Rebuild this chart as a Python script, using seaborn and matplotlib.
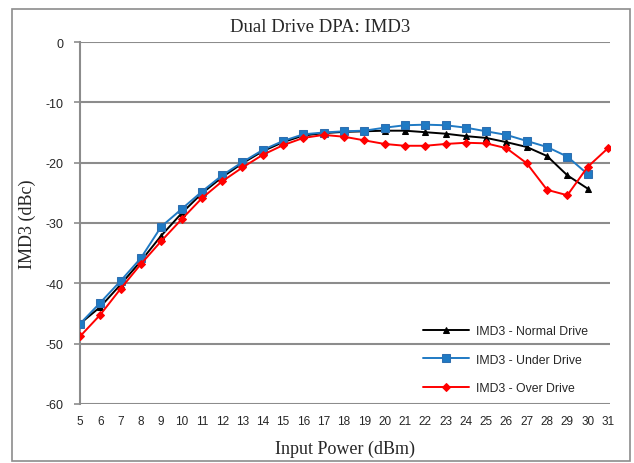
import matplotlib
matplotlib.use("Agg")
import matplotlib.pyplot as plt
import seaborn as sns
import pandas as pd
from matplotlib.patches import Rectangle

input_power = list(range(5, 32))
normal_drive = [-46.7, -43.9, -40.2, -36.3, -32.1, -28.4, -25.1, -22.4, -20.1, -18.1,
                -16.6, -15.5, -15.1, -14.9, -14.8, -14.7, -14.7, -14.95, -15.2, -15.6,
                -15.9, -16.6, -17.4, -18.9, -22.1, -24.3, None]
under_drive = [-46.7, -43.2, -39.6, -35.8, -30.6, -27.7, -24.8, -22.1, -19.9, -17.9,
               -16.4, -15.3, -15.0, -14.8, -14.7, -14.2, -13.8, -13.7, -13.8, -14.2,
               -14.8, -15.4, -16.4, -17.4, -19.0, -21.9, None]
over_drive = [-48.8, -45.2, -40.9, -36.8, -33.0, -29.4, -25.9, -23.1, -20.8, -18.7,
              -17.1, -15.9, -15.4, -15.7, -16.3, -16.9, -17.2, -17.2, -16.9, -16.7,
              -16.8, -17.6, -20.1, -24.5, -25.4, -20.7, -17.6]
series_names = ["IMD3 - Normal Drive", "IMD3 - Under Drive", "IMD3 - Over Drive"]
y_ticks = [0, -10, -20, -30, -40, -50, -60]

sns.set_theme(style="white")
plt.rcParams["font.family"] = ["Liberation Sans", "DejaVu Sans"]

fig = plt.figure(figsize=(6.34, 4.64), dpi=100)
ax = fig.add_axes([80/634, 1-405/464, (610-80)/634, (405-43)/464])

fig.patches.append(Rectangle((12/634, 2/464), 618/634, 452/464, transform=fig.transFigure,
                             fill=False, edgecolor="#8c8c8c", linewidth=1.2))

colors = ["#000000", "#1f7ac4", "#ff0000"]
markers = ["^", "s", "D"]
msizes = [5, 5.5, 4]
for vals, name, c, m, ms in zip([normal_drive, under_drive, over_drive], series_names,
                                colors, markers, msizes):
    df = pd.DataFrame({"x": input_power, "y": vals}).dropna()
    sns.lineplot(data=df, x="x", y="y", ax=ax, color=c, marker=m, markersize=ms,
                 markeredgecolor=c if c != "#1f7ac4" else "#2f6fb0", linewidth=1.4,
                 label=name, zorder=3)

ax.set_xlim(5, 31.1)
ax.set_ylim(-60, 0)
ax.set_xticks(input_power)
ax.set_xticklabels([str(v) for v in input_power], fontsize=8.5)
ax.set_yticks(y_ticks)
ax.set_yticklabels([str(v) for v in y_ticks], fontsize=9)
ax.yaxis.grid(True, color="#8c8c8c", linewidth=1.5)
ax.xaxis.grid(False)
for s in ["top", "right", "bottom"]:
    ax.spines[s].set_visible(False)
ax.spines["left"].set_color("#8c8c8c")
ax.spines["left"].set_linewidth(1.5)
ax.tick_params(axis="y", length=4, color="#8c8c8c", width=1.2, left=True, pad=8)
ax.tick_params(axis="x", length=0, pad=8)

ax.set_xlabel("Input Power (dBm)", family=["Liberation Serif"], fontsize=13, labelpad=9)
ax.set_ylabel("IMD3 (dBc)", family=["Liberation Serif"], fontsize=13, labelpad=7)
fig.text(320/634, 1-27/464, "Dual Drive DPA: IMD3", family=["Liberation Serif"],
         fontsize=13.5, ha="center", va="center")

ax.legend(loc="upper left", bbox_to_anchor=(412/634, 1-315/464),
          bbox_transform=fig.transFigure, frameon=False, fontsize=8.8,
          handlelength=3.8, labelspacing=1.35, handletextpad=0.5)

fig.savefig("out.png", dpi=100)
